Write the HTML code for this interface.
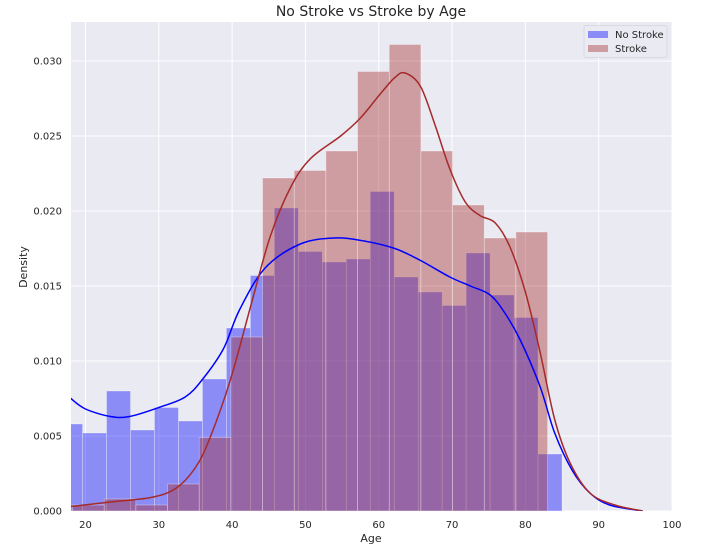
<!DOCTYPE html>
<html><head><meta charset="utf-8"><style>
body{margin:0;background:#fff;font-family:"Liberation Sans","DejaVu Sans",sans-serif;}
svg text{font-family:"DejaVu Sans","Liberation Sans",sans-serif;fill:#262626;}
</style></head><body>
<svg id="chart" width="703" height="549"></svg>
<script>
const blueStart = 16.33, blueWidth = 3.27;
const blueHeights = [0.0058,0.0052,0.0080,0.0054,0.0069,0.0060,0.0088,0.0122,0.0157,0.0202,0.0173,0.0166,0.0168,0.0213,0.0156,0.0146,0.0137,0.0172,0.0144,0.0129,0.0038];
const strokeStart = 18.23, strokeWidth = 4.32;
const strokeHeights = [0.0004,0.0008,0.0004,0.0018,0.0049,0.0116,0.0222,0.0227,0.0240,0.0293,0.0311,0.0240,0.0204,0.0182,0.0186];
const blueKdeAges = [17,18,20,23.4,26,30,33.6,36,38.8,41,44.5,49.3,54,58,62.2,65.7,69.7,72.5,75.2,77.2,79.3,82,84,86.4,88.8,91.5,96];
const blueKdeVals = [0.0080,0.0075,0.0068,0.0063,0.0063,0.0069,0.0076,0.0088,0.0108,0.0134,0.0162,0.0178,0.0182,0.0180,0.0175,0.0167,0.0156,0.0150,0.0144,0.0132,0.0114,0.0083,0.0052,0.0027,0.0012,0.0004,0.0];
const strokeKdeAges = [17,18,23.4,28.9,32.3,35,37,39.8,42.5,45.2,48,50.7,54.8,57.5,60.2,62.2,63.6,65.7,67.7,69.7,71.8,73.8,75.9,77.9,80,82,84,86.1,88.8,92.2,96];
const strokeKdeVals = [0.0002,0.0003,0.0006,0.0009,0.0015,0.0029,0.0049,0.0088,0.0136,0.0183,0.0216,0.0235,0.0250,0.0262,0.0278,0.0289,0.0292,0.0283,0.0257,0.0228,0.0206,0.0197,0.0192,0.0176,0.0146,0.0106,0.0061,0.0032,0.0012,0.0004,0.0];
const xTicks = [20,30,40,50,60,70,80,90,100];
const yTicks = [0,0.005,0.010,0.015,0.020,0.025,0.030];

const L=71,T=22,R=672,B=511;
const xS=a=>85.5+(a-20)*(672-85.5)/80;
const yS=d=>511-d*(511-61)/0.030;
const NS="http://www.w3.org/2000/svg";
const svg=document.getElementById('chart');
function mk(t,a,p){const e=document.createElementNS(NS,t);for(const k in a)e.setAttribute(k,a[k]);(p||svg).appendChild(e);return e;}
const defs=mk('defs',{});const cp=mk('clipPath',{id:'clip'},defs);mk('rect',{x:L,y:T,width:R-L,height:B-T},cp);
const bg=mk('rect',{x:L,y:T,width:R-L,height:B-T,fill:'#eaeaf2'});


xTicks.forEach(v=>{const l=mk('line',{x1:xS(v),x2:xS(v),y1:T,y2:B,stroke:'#fff','stroke-width':1});


const t=mk('text',{x:xS(v),y:528,'text-anchor':'middle','font-size':10});t.textContent=v;

});
yTicks.forEach(v=>{const l=mk('line',{x1:L,x2:R,y1:yS(v),y2:yS(v),stroke:'#fff','stroke-width':1});


const t=mk('text',{x:62,y:yS(v)+3.5,'text-anchor':'end','font-size':10});t.textContent=v.toFixed(3);

});
const g=mk('g',{'clip-path':'url(#clip)'});
blueHeights.forEach((h,i)=>{const x0=xS(blueStart+i*blueWidth),x1=xS(blueStart+(i+1)*blueWidth);
const r=mk('rect',{x:x0,y:yS(h),width:x1-x0,height:yS(0)-yS(h),fill:'rgba(0,0,255,0.4)',stroke:'rgba(255,255,255,0.5)','stroke-width':0.6},g);

});
strokeHeights.forEach((h,i)=>{const x0=xS(strokeStart+i*strokeWidth),x1=xS(strokeStart+(i+1)*strokeWidth);
const r=mk('rect',{x:x0,y:yS(h),width:x1-x0,height:yS(0)-yS(h),fill:'rgba(165,42,42,0.4)',stroke:'rgba(255,255,255,0.5)','stroke-width':0.6},g);

});
function path(ax,vs){const p=ax.map((a,i)=>[xS(a),yS(vs[i])]);let d='M'+p[0][0]+','+p[0][1];
for(let i=0;i<p.length-1;i++){const p0=p[Math.max(0,i-1)],p1=p[i],p2=p[i+1],p3=p[Math.min(p.length-1,i+2)];
d+=' C'+(p1[0]+(p2[0]-p0[0])/6)+','+(p1[1]+(p2[1]-p0[1])/6)+' '+(p2[0]-(p3[0]-p1[0])/6)+','+(p2[1]-(p3[1]-p1[1])/6)+' '+p2[0]+','+p2[1];}return d;}
const bl=mk('path',{d:path(blueKdeAges,blueKdeVals),fill:'none',stroke:'#0000ff','stroke-width':1.5},g);


const rl=mk('path',{d:path(strokeKdeAges,strokeKdeVals),fill:'none',stroke:'#a52a2a','stroke-width':1.5},g);


</script>
<svg width="703" height="549" style="position:absolute;left:0;top:0">
<text x="371" y="16" text-anchor="middle" font-size="14">No Stroke vs Stroke by Age</text>
<text x="371" y="542" text-anchor="middle" font-size="11">Age</text>
<text x="27" y="267" text-anchor="middle" font-size="11" transform="rotate(-90 27 267)">Density</text>
<g>
<rect x="584" y="25.5" width="83" height="32" rx="2" fill="#eaeaf2" stroke="#d8d8e0" opacity="0.9"/>
<rect x="588" y="31" width="20" height="7" fill="rgba(0,0,255,0.4)"/>
<text x="615" y="38" font-size="10">No Stroke</text>
<rect x="588" y="45" width="20" height="7" fill="rgba(165,42,42,0.4)"/>
<text x="615" y="52" font-size="10">Stroke</text>
</g>
</svg>
</body></html>
